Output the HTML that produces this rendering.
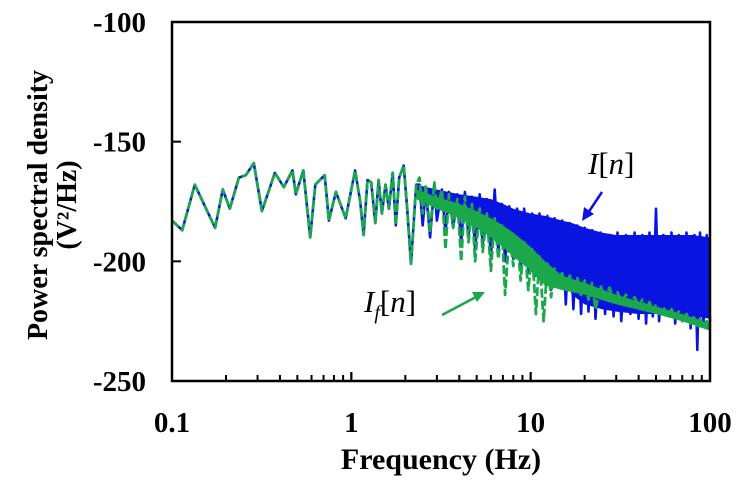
<!DOCTYPE html>
<html><head><meta charset="utf-8"><style>
html,body{margin:0;padding:0;background:#fff;}
svg text{font-family:"Liberation Serif",serif;}
</style></head><body>
<svg id="c" width="745" height="483" viewBox="0 0 745 483" xmlns="http://www.w3.org/2000/svg">
<g id="series"></g>
<rect x="172" y="22" width="538" height="359" fill="none" stroke="#000" stroke-width="2.5"/>
<g id="ticks"></g>
<g id="labels" font-weight="bold" font-size="29" fill="#000"></g>
<text x="441" y="469" text-anchor="middle" font-weight="bold" font-size="30">Frequency (Hz)</text>
<g transform="translate(0,205) rotate(-90)">
<text x="0" y="47" text-anchor="middle" font-weight="bold" font-size="28">Power spectral density</text>
<text x="0" y="76" text-anchor="middle" font-weight="bold" font-size="28">(V²/Hz)</text>
</g>
<text x="588" y="174" font-size="31"><tspan font-style="italic">I</tspan>[<tspan font-style="italic">n</tspan>]</text>
<line x1="602" y1="192" x2="588" y2="213" stroke="#0a14e0" stroke-width="2.5"/>
<polygon points="582,221 584,207 594,214" fill="#0a14e0"/>
<text x="364" y="312" font-size="31"><tspan font-style="italic">I</tspan><tspan font-size="20" dy="7" font-style="italic">f</tspan><tspan dy="-7">[</tspan><tspan font-style="italic">n</tspan>]</text>
<line x1="442" y1="315" x2="476" y2="297" stroke="#1aa84a" stroke-width="2.5"/>
<polygon points="485,292 472,292 477,302" fill="#1aa84a"/>
</svg>
<script>
const lowFreq=[0.1,0.114,0.134,0.174,0.192,0.21,0.236,0.258,0.286,0.317,0.375,0.42,0.47,0.49,0.54,0.59,0.63,0.71,0.75,0.82,0.93,1.05,1.12,1.17,1.23,1.29,1.36,1.42,1.48,1.55,1.62,1.7,1.77,1.85,1.96,2.05,2.15,2.3];
const lowVals=[-183,-187,-168,-186,-170,-178,-165,-164,-159,-179,-163,-169,-162,-172,-162,-190,-168,-164,-183,-171,-182,-162,-175,-189,-166,-167,-184,-166,-180,-168,-178,-163,-185,-165,-160,-178,-201,-168];
const highFreq=[2.4,2.5,2.6,2.75,2.9,3.0,3.2,3.35,3.5,3.7,3.9,4.1,4.3,4.5,4.7,4.9,5.2,5.4,5.7,6.0,6.3,6.6,6.9,7.2,7.6,8.0,8.4,8.8,9.2,9.7,10.2,10.7,11.2,11.8,12.4,13.0,13.6,14.3,15.0,15.7,16.5,17.3,18.2,19.1,20,21,22,23,24.5,26,27.5,29,30.5,32,34,36,38,40,42,44,46,48,50,52,55,58,61,64,67,70,74,78,82,85,88,92,96,100];
const blueHigh=[-168,-185,-170,-190,-168,-183,-170,-188,-171,-186,-172,-192,-171,-190,-173,-195,-172,-193,-174,-198,-170,-196,-176,-200,-177,-199,-178,-203,-178,-205,-180,-206,-180,-208,-181,-212,-182,-210,-183,-218,-184,-220,-185,-222,-186,-221,-187,-224,-188,-222,-189,-223,-188,-225,-189,-222,-188,-224,-189,-226,-188,-223,-178,-225,-189,-222,-188,-226,-189,-223,-188,-228,-189,-237,-188,-226,-189,-225];
const greenHigh=[-165,-180,-168,-188,-167,-178,-170,-195,-172,-186,-174,-200,-173,-192,-176,-200,-178,-196,-180,-204,-182,-199,-185,-214,-188,-202,-190,-208,-192,-212,-195,-222,-198,-225,-201,-215,-203,-210,-205,-211,-206,-210,-207,-214,-208,-216,-209,-220,-210,-216,-211,-216,-213,-217,-214,-218,-215,-219,-216,-220,-217,-221,-218,-221,-219,-223,-220,-223,-221,-225,-222,-226,-223,-227,-224,-227,-225,-228];
const blueBandFreq=[2.3,3,4,5,6,7,8,10,12,15,17,20,25,30,40,50,60,70,80,100];
const blueBandUpper=[-168,-170,-172,-173,-174,-176,-178,-180,-181,-183,-184,-186,-188,-189,-189,-189,-189,-189,-189,-190];
const blueBandLower=[-172,-178,-182,-186,-190,-193,-196,-199,-202,-205,-214,-218,-220,-221,-222,-222,-223,-223,-223,-224];
const greenBandFreq=[2.3,3,4,5,6,7,8,10,12,15,20,30,50,70,100];
const greenBandUpper=[-170,-173,-176,-179,-182,-185,-188,-194,-200,-206,-209,-214,-219,-222,-226];
const greenBandLower=[-174,-178,-182,-186,-190,-194,-198,-204,-210,-212,-214,-218,-222,-225,-229];
const xTickLabels=["0.1","1","10","100"];
const xTickVals=[0.1,1,10,100];
const yTickVals=[-100,-150,-200,-250];
const NS="http://www.w3.org/2000/svg";
const X0=172,X1=710,Y0=22,Y1=381;
function xs(f){return X0+(Math.log10(f)+1)/3*(X1-X0);}
function ys(v){return Y0+(-100-v)/150*(Y1-Y0);}
function mk(tag,attrs,parent){const e=document.createElementNS(NS,tag);for(const k in attrs)e.setAttribute(k,attrs[k]);parent.appendChild(e);return e;}
const ser=document.getElementById('series');
function pts(fa,va){return fa.map((f,i)=>xs(f).toFixed(1)+","+ys(va[i]).toFixed(1)).join(" ");}
function band(fa,up,lo){return pts(fa,up)+" "+pts(fa.slice().reverse(),lo.slice().reverse());}
const bb=mk('polygon',{points:band(blueBandFreq,blueBandUpper,blueBandLower),fill:'#0a14e0'},ser);


const bl=mk('polyline',{points:pts(lowFreq.concat(highFreq),lowVals.concat(blueHigh)),fill:'none',stroke:'#0a14e0','stroke-width':2.6,'stroke-linejoin':'round'},ser);


const gb=mk('polygon',{points:band(greenBandFreq,greenBandUpper,greenBandLower),fill:'#1aa84a'},ser);


const gl=mk('polyline',{points:pts(lowFreq.concat(highFreq),lowVals.concat(greenHigh)),fill:'none',stroke:'#1aa84a','stroke-width':2.8,'stroke-dasharray':'9,3','stroke-linejoin':'round'},ser);


const tk=document.getElementById('ticks');
for(let d=0;d<3;d++){for(let m=1;m<=10;m++){const f=Math.pow(10,d-1)*m;const x=xs(f);const len=(m===1||m===10)?9:6;
const t=mk('line',{x1:x,x2:x,y1:Y1,y2:Y1-len,stroke:'#000','stroke-width':2},tk);

}}
yTickVals.forEach(v=>{const y=ys(v);const t=mk('line',{x1:X0,x2:X0+9,y1:y,y2:y,stroke:'#000','stroke-width':2},tk);

});
const lb=document.getElementById('labels');
xTickVals.forEach((f,i)=>{const t=mk('text',{x:xs(f),y:432,'text-anchor':'middle'},lb);t.textContent=xTickLabels[i];

});
yTickVals.forEach(v=>{const t=mk('text',{x:146,y:ys(v)+10,'text-anchor':'end'},lb);t.textContent=String(v);

});
</script>
</body></html>
